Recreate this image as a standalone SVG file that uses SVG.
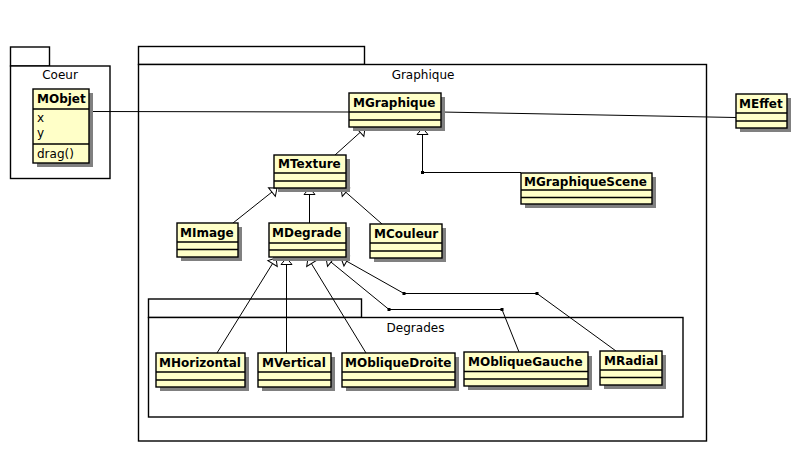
<svg xmlns="http://www.w3.org/2000/svg" width="803" height="453" viewBox="0 0 803 453">
  <style>
    .pkg { fill: #ffffff; stroke: #000000; stroke-width: 1.4; }
    .pkglabel { font-family: "DejaVu Sans", "Liberation Sans", sans-serif; font-size: 12px; fill: #000000; text-anchor: middle; }
    .shadow { fill: #808080; stroke: none; }
    .box { fill: #ffffc8; stroke: #000000; stroke-width: 1.4; }
    .sep { stroke: #000000; stroke-width: 1.4; }
    .name { font-family: "DejaVu Sans", "Liberation Sans", sans-serif; font-size: 12px; font-weight: bold; fill: #000000; }
    .member { font-family: "DejaVu Sans", "Liberation Sans", sans-serif; font-size: 12px; fill: #000000; }
    .edge { fill: none; stroke: #000000; stroke-width: 1; }
    .gen { marker-end: url(#hollow); }
    .bend { fill: #000000; }
  </style>
  <defs>
    <!-- hollow triangle for generalization -->
    <marker id="hollow" viewBox="0 0 8 13" refX="7.5" refY="6.5" markerWidth="8" markerHeight="13" markerUnits="userSpaceOnUse" orient="auto" overflow="visible">
      <path d="M7.5,6.5 L1,1 L1,12 Z" fill="#ffffff" stroke="#000000" stroke-width="1"/>
    </marker>
  </defs>

  <!-- packages -->
  <g id="pkg-coeur">
    <rect class="pkg" x="10.5" y="47" width="39" height="19"/>
    <rect class="pkg" x="10.5" y="66" width="99.5" height="112.5"/>
    <text class="pkglabel" x="60" y="79">Coeur</text>
  </g>
  <g id="pkg-graphique">
    <rect class="pkg" x="138.5" y="46.5" width="226" height="18"/>
    <rect class="pkg" x="138.5" y="64.5" width="568" height="376.5"/>
    <text class="pkglabel" x="423" y="79">Graphique</text>
  </g>
  <g id="pkg-degrades">
    <rect class="pkg" x="148.5" y="299" width="213" height="18.5"/>
    <rect class="pkg" x="148.5" y="317.5" width="534.5" height="99.5"/>
    <text class="pkglabel" x="415.5" y="332">Degrades</text>
  </g>

  <!-- connectors -->
  <g id="connectors">
    <line class="edge" x1="89" y1="111.5" x2="349" y2="112"/>
    <line class="edge" x1="441" y1="112" x2="736" y2="117.5"/>

    <line class="edge gen" x1="335" y1="155" x2="365" y2="128"/>
    <polyline class="edge gen" points="521,172.5 422.5,172.5 422.5,128"/>
    <rect class="bend" x="421" y="171" width="3" height="3"/>

    <line class="edge gen" x1="233" y1="223" x2="277" y2="188"/>
    <line class="edge gen" x1="309.5" y1="223" x2="309.5" y2="188"/>
    <line class="edge gen" x1="382" y1="224" x2="341" y2="188"/>

    <line class="edge gen" x1="217" y1="353" x2="276" y2="258"/>
    <line class="edge gen" x1="286.5" y1="353" x2="286.5" y2="258"/>
    <line class="edge gen" x1="366" y1="353" x2="308" y2="258"/>
    <polyline class="edge gen" points="519,352 502,309.5 389,309.5 326,258"/>
    <rect class="bend" x="500.5" y="308" width="3" height="3"/>
    <rect class="bend" x="387.5" y="308" width="3" height="3"/>
    <polyline class="edge gen" points="616,351 537,293.5 404,293.5 341,258"/>
    <rect class="bend" x="535.5" y="292" width="3" height="3"/>
    <rect class="bend" x="402.5" y="292" width="3" height="3"/>
  </g>

  <!-- classes -->
  <g id="MObjet">
    <rect class="shadow" x="37" y="93" width="56" height="74"/>
    <rect class="box" x="33" y="89" width="56" height="74"/>
    <line class="sep" x1="33" y1="109" x2="89" y2="109"/>
    <line class="sep" x1="33" y1="144" x2="89" y2="144"/>
    <text class="name" x="37" y="103">MObjet</text>
    <text class="member" x="37" y="122">x</text>
    <text class="member" x="37" y="137">y</text>
    <text class="member" x="37" y="158">drag()</text>
  </g>

  <g id="MGraphique">
    <rect class="shadow" x="353" y="97" width="92" height="34"/>
    <rect class="box" x="349" y="93" width="92" height="34"/>
    <line class="sep" x1="349" y1="112" x2="441" y2="112"/>
    <line class="sep" x1="349" y1="120" x2="441" y2="120"/>
    <text class="name" x="353" y="107">MGraphique</text>
  </g>

  <g id="MEffet">
    <rect class="shadow" x="740" y="98" width="51" height="34"/>
    <rect class="box" x="736" y="94" width="51" height="34"/>
    <line class="sep" x1="736" y1="113" x2="787" y2="113"/>
    <line class="sep" x1="736" y1="121" x2="787" y2="121"/>
    <text class="name" x="739" y="108">MEffet</text>
  </g>

  <g id="MTexture">
    <rect class="shadow" x="278" y="159" width="72" height="33"/>
    <rect class="box" x="274" y="155" width="72" height="33"/>
    <line class="sep" x1="274" y1="173" x2="346" y2="173"/>
    <line class="sep" x1="274" y1="181" x2="346" y2="181"/>
    <text class="name" x="278" y="168">MTexture</text>
  </g>

  <g id="MGraphiqueScene">
    <rect class="shadow" x="525" y="177" width="131" height="31"/>
    <rect class="box" x="521" y="173" width="131" height="31"/>
    <line class="sep" x1="521" y1="190" x2="652" y2="190"/>
    <line class="sep" x1="521" y1="197.5" x2="652" y2="197.5"/>
    <text class="name" x="524" y="186">MGraphiqueScene</text>
  </g>

  <g id="MImage">
    <rect class="shadow" x="181" y="227" width="61" height="34"/>
    <rect class="box" x="177" y="223" width="61" height="34"/>
    <line class="sep" x1="177" y1="242" x2="238" y2="242"/>
    <line class="sep" x1="177" y1="249.5" x2="238" y2="249.5"/>
    <text class="name" x="180" y="237">MImage</text>
  </g>

  <g id="MDegrade">
    <rect class="shadow" x="273" y="227" width="77" height="34"/>
    <rect class="box" x="269" y="223" width="77" height="34"/>
    <line class="sep" x1="269" y1="243" x2="346" y2="243"/>
    <line class="sep" x1="269" y1="250" x2="346" y2="250"/>
    <text class="name" x="272" y="237">MDegrade</text>
  </g>

  <g id="MCouleur">
    <rect class="shadow" x="374" y="228" width="72" height="34"/>
    <rect class="box" x="370" y="224" width="72" height="34"/>
    <line class="sep" x1="370" y1="243" x2="442" y2="243"/>
    <line class="sep" x1="370" y1="251" x2="442" y2="251"/>
    <text class="name" x="374" y="238">MCouleur</text>
  </g>

  <g id="MHorizontal">
    <rect class="shadow" x="160" y="357" width="89" height="34"/>
    <rect class="box" x="156" y="353" width="89" height="34"/>
    <line class="sep" x1="156" y1="372" x2="245" y2="372"/>
    <line class="sep" x1="156" y1="380" x2="245" y2="380"/>
    <text class="name" x="159" y="367">MHorizontal</text>
  </g>

  <g id="MVertical">
    <rect class="shadow" x="262" y="357" width="73" height="34"/>
    <rect class="box" x="258" y="353" width="73" height="34"/>
    <line class="sep" x1="258" y1="372" x2="331" y2="372"/>
    <line class="sep" x1="258" y1="380" x2="331" y2="380"/>
    <text class="name" x="262" y="367">MVertical</text>
  </g>

  <g id="MObliqueDroite">
    <rect class="shadow" x="346" y="357" width="113" height="34"/>
    <rect class="box" x="342" y="353" width="113" height="34"/>
    <line class="sep" x1="342" y1="372" x2="455" y2="372"/>
    <line class="sep" x1="342" y1="380" x2="455" y2="380"/>
    <text class="name" x="345" y="367">MObliqueDroite</text>
  </g>

  <g id="MObliqueGauche">
    <rect class="shadow" x="468" y="356" width="124" height="34"/>
    <rect class="box" x="464" y="352" width="124" height="34"/>
    <line class="sep" x1="464" y1="371.5" x2="588" y2="371.5"/>
    <line class="sep" x1="464" y1="379" x2="588" y2="379"/>
    <text class="name" x="468" y="366">MObliqueGauche</text>
  </g>

  <g id="MRadial">
    <rect class="shadow" x="604" y="355" width="62" height="34"/>
    <rect class="box" x="600" y="351" width="62" height="34"/>
    <line class="sep" x1="600" y1="370" x2="662" y2="370"/>
    <line class="sep" x1="600" y1="377.5" x2="662" y2="377.5"/>
    <text class="name" x="604" y="365">MRadial</text>
  </g>
</svg>
